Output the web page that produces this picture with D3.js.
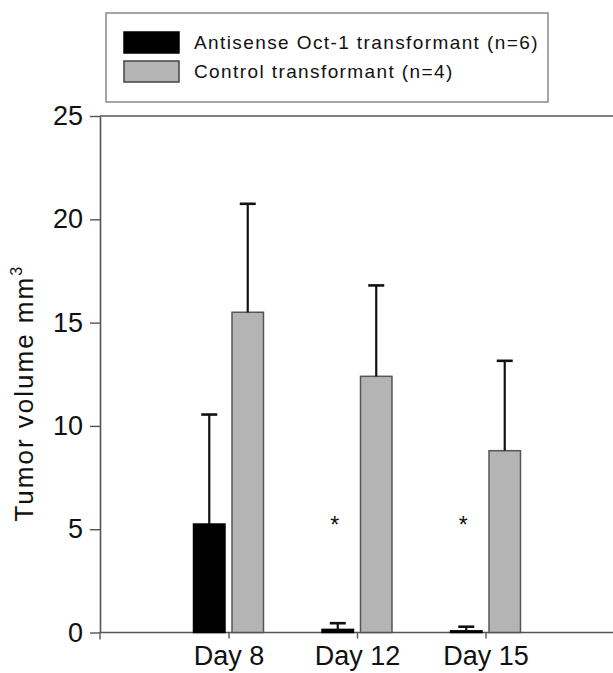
<!DOCTYPE html>
<html>
<head>
<meta charset="utf-8">
<script src="https://cdn.jsdelivr.net/npm/d3@7"></script>
<style>
  body { margin: 0; background: #fff; }
  text { font-family: "Liberation Sans", Arial, sans-serif; }
</style>
</head>
<body>
<script>
// data
var days = ["Day 8", "Day 12", "Day 15"];
var antisense = [5.25, 0.15, 0.08];
var antisenseErr = [5.3, 0.3, 0.2];
var control = [15.5, 12.4, 8.8];
var controlErr = [5.25, 4.4, 4.35];
var yTicks = [0, 5, 10, 15, 20, 25];
var legendLabels = ["Antisense Oct-1 transformant (n=6)", "Control transformant (n=4)"];
var starred = [false, true, true];

var W = 613, H = 673;
var svg = d3.select("body").append("svg")
    .attr("width", W)
    .attr("height", H);

var x = d3.scalePoint().domain(days).range([100, 614]).padding(1);
var y = d3.scaleLinear().domain([0, 25]).range([632.5, 116]);
var bw = x.step() * 0.245;
var gap = 3.5;

// top frame line
svg.append("line")
    .attr("x1", 100).attr("x2", W)
    .attr("y1", y(25)).attr("y2", y(25))
    .attr("stroke", "#555").attr("stroke-width", 1.6);

// y axis
var yAxis = svg.append("g")
    .attr("transform", "translate(100,0)")
    .call(d3.axisLeft(y).tickValues(yTicks).tickSize(10).tickSizeOuter(0).tickPadding(7));
yAxis.select(".domain").attr("stroke", "#555").attr("stroke-width", 1.6);
yAxis.selectAll(".tick line").attr("stroke", "#555").attr("stroke-width", 1.4);
yAxis.selectAll(".tick text").attr("font-size", 27).attr("fill", "#111")
    .attr("font-family", "Liberation Sans, Arial, sans-serif");

// x axis
var xAxis = svg.append("g")
    .attr("transform", "translate(0," + y(0) + ")")
    .call(d3.axisBottom(x).tickSize(6).tickSizeOuter(0).tickPadding(7));
xAxis.select(".domain").attr("d", "M100,0H" + W).attr("stroke", "#555").attr("stroke-width", 1.6);
xAxis.selectAll(".tick line").attr("stroke", "#555").attr("stroke-width", 1.4);
xAxis.selectAll(".tick text").attr("font-size", 27).attr("fill", "#111")
    .attr("font-family", "Liberation Sans, Arial, sans-serif");
xAxis.append("line")
    .attr("x1", 100).attr("x2", 100).attr("y1", 0).attr("y2", 7)
    .attr("stroke", "#555").attr("stroke-width", 1.4);

// y label
svg.append("text")
    .attr("transform", "translate(33," + (y(12.5) + 19) + ") rotate(-90)")
    .attr("text-anchor", "middle")
    .attr("font-size", 26)
    .attr("letter-spacing", 2)
    .attr("fill", "#111")
    .html('Tumor volume mm<tspan font-size="16" dy="-11">3</tspan>');

// bars
var series = [
  { vals: antisense, err: antisenseErr, off: -gap - bw, fill: "#000", stroke: "#000" },
  { vals: control, err: controlErr, off: gap, fill: "#b4b4b4", stroke: "#555" }
];

series.forEach(function(s) {
  var g = svg.append("g");
  g.selectAll("rect")
      .data(days)
      .enter()
      .append("rect")
      .attr("x", function(d) { return x(d) + s.off; })
      .attr("y", function(d, i) { return y(s.vals[i]); })
      .attr("width", bw)
      .attr("height", function(d, i) { return y(0) - y(s.vals[i]); })
      .attr("fill", s.fill)
      .attr("stroke", s.stroke)
      .attr("stroke-width", 1.5);

  // upper error bars
  g.selectAll("line.err")
      .data(days)
      .enter()
      .append("line")
      .attr("class", "err")
      .attr("x1", function(d) { return x(d) + s.off + bw / 2; })
      .attr("x2", function(d) { return x(d) + s.off + bw / 2; })
      .attr("y1", function(d, i) { return y(s.vals[i]); })
      .attr("y2", function(d, i) { return y(s.vals[i] + s.err[i]); })
      .attr("stroke", "#111").attr("stroke-width", 2.2);
  g.selectAll("line.cap")
      .data(days)
      .enter()
      .append("line")
      .attr("class", "cap")
      .attr("x1", function(d) { return x(d) + s.off + bw / 2 - 8; })
      .attr("x2", function(d) { return x(d) + s.off + bw / 2 + 8; })
      .attr("y1", function(d, i) { return y(s.vals[i] + s.err[i]); })
      .attr("y2", function(d, i) { return y(s.vals[i] + s.err[i]); })
      .attr("stroke", "#111").attr("stroke-width", 2.6);
});

// significance stars
svg.selectAll("text.star")
    .data(days.filter(function(d, i) { return starred[i]; }))
    .enter()
    .append("text")
    .attr("class", "star")
    .attr("x", function(d) { return x(d) - gap - bw / 2 - 3; })
    .attr("y", y(5.25) + 9)
    .attr("text-anchor", "middle")
    .attr("font-size", 23)
    .attr("fill", "#111")
    .text("*");

// legend
var lg = svg.append("g");
lg.append("rect")
    .attr("x", 106).attr("y", 13)
    .attr("width", 442).attr("height", 89)
    .attr("fill", "#fff")
    .attr("stroke", "#888").attr("stroke-width", 1.5);

var legFill = ["#000", "#b4b4b4"];
var legStroke = ["#000", "#444"];
legendLabels.forEach(function(t, i) {
  lg.append("rect")
      .attr("x", 124).attr("y", 32 + i * 29)
      .attr("width", 55).attr("height", 21)
      .attr("fill", legFill[i])
      .attr("stroke", legStroke[i]).attr("stroke-width", 1.5);
  lg.append("text")
      .attr("x", 194).attr("y", 49 + i * 29)
      .attr("font-size", 19)
      .attr("letter-spacing", 1.4)
      .attr("fill", "#111")
      .text(t);
});
</script>
</body>
</html>
